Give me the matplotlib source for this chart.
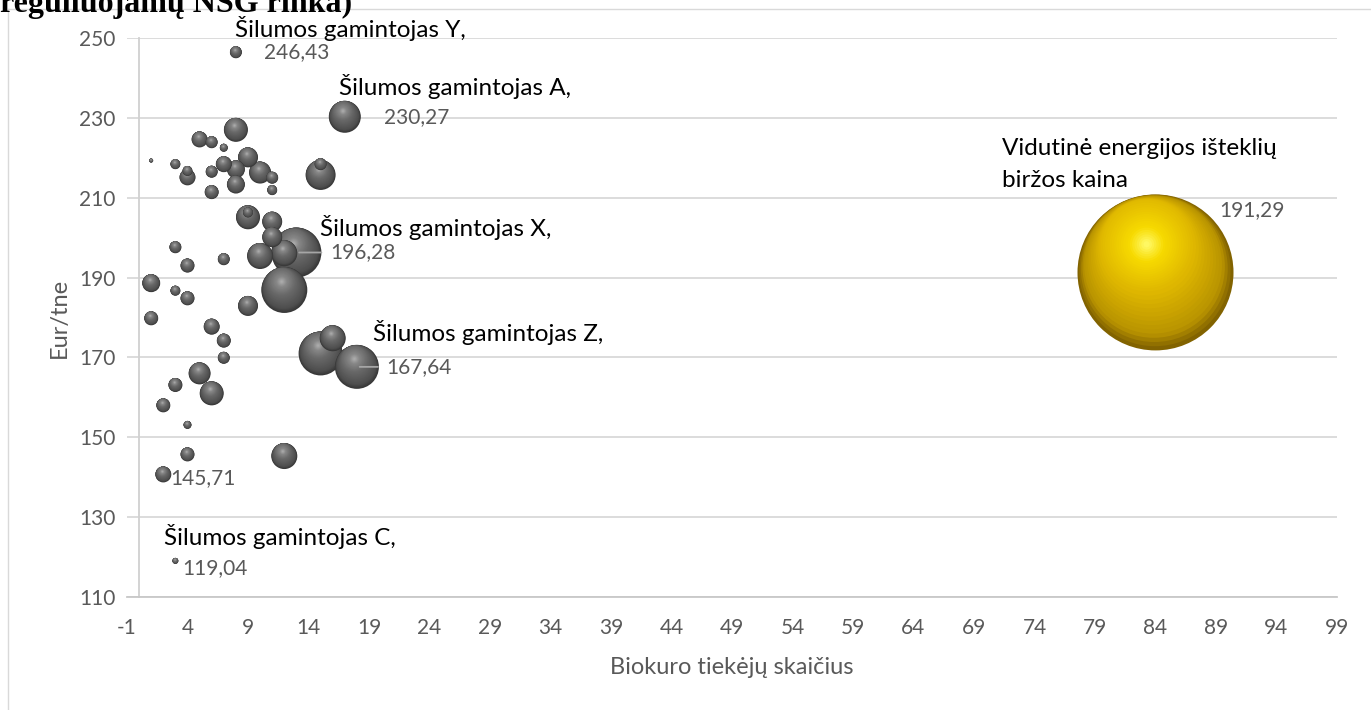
import numpy as np
import matplotlib.pyplot as plt
from matplotlib.colors import LinearSegmentedColormap
from matplotlib.lines import Line2D

plt.rcParams['font.family'] = ['Lato', 'DejaVu Sans']
plt.rcParams['axes.unicode_minus'] = False

# biokuro tiekeju skaicius (x), kaina Eur/tne (y), kiekis (burbulo dydis)
tiekejai = [8, 17, 1, 8, 5, 6, 7, 3, 4, 4, 6, 7, 9, 8, 10, 11, 8, 6, 11, 15,
            15, 9, 9, 11, 11, 13, 12, 10, 7, 3, 4, 1, 3, 4, 12, 9, 1, 6, 7, 7,
            5, 6, 3, 2, 4, 4, 2, 12, 3, 15, 16, 18]
kaina = [246.43, 230.27, 219.3, 227.0, 224.6, 223.9, 222.5, 218.4, 216.7, 215.1,
         216.5, 218.4, 220.1, 217.1, 216.3, 215.0, 213.3, 211.4, 211.9, 215.7,
         218.4, 205.1, 206.3, 204.0, 200.1, 196.28, 196.1, 195.4, 194.6, 197.6,
         193.0, 188.6, 186.7, 184.8, 186.9, 182.9, 179.8, 177.7, 174.2, 169.9,
         166.0, 161.0, 163.1, 158.0, 153.1, 145.71, 140.7, 145.3, 119.04, 171.0,
         174.8, 167.64]
kiekis = [36, 256, 4, 144, 64, 36, 16, 25, 25, 64, 36, 64, 100, 81, 121, 36, 81,
          49, 25, 225, 36, 144, 25, 100, 100, 625, 169, 169, 36, 36, 49, 81, 25,
          49, 529, 100, 49, 64, 49, 36, 121, 144, 49, 49, 16, 49, 64, 169, 9,
          484, 169, 484]

# vidutine birzos kaina
birza_x = 84
birza_y = 191.29
birza_kiekis = 6084

W, H = 1371, 710
fig = plt.figure(figsize=(W / 100, H / 100), dpi=100)
ax = fig.add_axes([127 / W, 1 - 597 / H, 1210 / W, 559 / H])
ax.set_xlim(-1, 99)
ax.set_ylim(110, 250)
ppx = 1210 / 100.0   # pikseliai vienam x vienetui
ppy = 559 / 140.0

pilka = LinearSegmentedColormap.from_list('pilka', [(0, '#383838'), (0.1, '#4e4e4e'), (0.4, '#676767'),
                                                   (0.8, '#888888'), (1, '#ababab')])
geltona = LinearSegmentedColormap.from_list('geltona', [(0, '#826300'), (0.1, '#b89300'), (0.4, '#dfb700'),
                                                       (0.8, '#f7da00'), (1, '#fff862')])


def sfera(x, y, r, cmap, z):
    n = 34
    f = np.linspace(1, 0.04, n)
    d = np.minimum(0.9 * (1 - f), 0.38) * r
    dx = -0.3 * d / ppx
    dy = 0.95 * d / ppy
    s = (2 * r * f * 0.72) ** 2
    c = cmap((1 - f) / 0.96)
    ax.scatter(x + dx, y + dy, s=s, c=c, linewidths=0, zorder=z, clip_on=False)


rmax = 78.0
kmax = max(kiekis + [birza_kiekis])
tvarka = sorted(range(len(kiekis)), key=lambda i: -kiekis[i])
for z, i in enumerate(tvarka):
    r = rmax * np.sqrt(kiekis[i] / kmax)
    sfera(tiekejai[i], kaina[i], r, pilka, 3 + z * 0.01)
sfera(birza_x, birza_y, rmax, geltona, 4)

# asys
ax.set_xticks(np.arange(-1, 100, 5))
ax.set_yticks(np.arange(110, 251, 20))
ax.grid(axis='y', color='#d9d9d9', lw=1.3, zorder=0)
ax.set_axisbelow(True)
for s in ['top', 'right']:
    ax.spines[s].set_visible(False)
ax.spines['bottom'].set_color('#c8c8c8')
ax.spines['bottom'].set_linewidth(1.3)
ax.spines['left'].set_position(('data', 0))
ax.spines['left'].set_color('#d0d0d0')
ax.spines['left'].set_linewidth(1.3)
ax.tick_params(axis='y', length=0, pad=17, labelsize=15, labelcolor='#595959')
ax.tick_params(axis='x', length=0, pad=15, labelsize=15, labelcolor='#595959')
ax.set_xlabel('Biokuro tiekėjų skaičius', fontsize=17, color='#595959', labelpad=14)
ax.text(-0.056, 0.5, 'Eur/tne', transform=ax.transAxes, rotation=90, fontsize=17,
        color='#595959', ha='center', va='center')

# etiketes
vardai = [('Šilumos gamintojas Y,', '246,43', 8, 246.43, (-1, 24), (28, 0)),
          ('Šilumos gamintojas A,', '230,27', 17, 230.27, (-6, 30), (39, 0)),
          ('Šilumos gamintojas X,', '196,28', 13, 196.28, (24, 25), (34, 0)),
          ('Šilumos gamintojas Z,', '167,64', 18, 167.64, (16, 34), (29, 0)),
          ('Šilumos gamintojas C,', '119,04', 3, 119.04, (-11, 24), (7, -7))]
for vardas, reiksme, x, y, o1, o2 in vardai:
    ax.annotate(vardas, (x, y), xytext=o1, textcoords='offset pixels', fontsize=17.5,
                color='black', ha='left', va='center', zorder=20)
    ax.annotate(reiksme, (x, y), xytext=o2, textcoords='offset pixels', fontsize=15,
                color='#595959', ha='left', va='center', zorder=20)

ax.annotate('145,71', (4, 145.71), xytext=(-17, -24), textcoords='offset pixels', fontsize=15,
            color='#595959', ha='left', va='center', zorder=20)

# linijos iki etikeciu
for x, y, ilgis in [(13, 196.28, 25), (18, 167.64, 21)]:
    ax.annotate('', (x, y), xytext=(ilgis, 0), textcoords='offset pixels', zorder=20,
                arrowprops=dict(arrowstyle='-', color='#a6a6a6', lw=1.3, shrinkA=0, shrinkB=2))

ax.annotate('Vidutinė energijos išteklių\nbiržos kaina', (birza_x, birza_y), xytext=(-153, 108),
            textcoords='offset pixels', fontsize=17.5, color='black', ha='left', va='center',
            linespacing=1.6, zorder=20)
ax.annotate('191,29', (birza_x, birza_y), xytext=(64, 62), textcoords='offset pixels',
            fontsize=15, color='#595959', ha='left', va='center', zorder=20)

# nukirptas pavadinimas ir diagramos remelis
fig.text(0, 1 - 12 / H, 'reguliuojamų NSG rinka)', fontfamily=['Liberation Serif', 'DejaVu Serif'],
         fontweight='bold', fontsize=23, va='baseline', ha='left')
fig.add_artist(Line2D([8 / W, 8 / W], [0, 1 - 9 / H], transform=fig.transFigure, color='#d9d9d9', lw=1))
fig.add_artist(Line2D([8 / W, 1], [1 - 9 / H, 1 - 9 / H], transform=fig.transFigure, color='#d9d9d9', lw=1))

fig.savefig('out.png', dpi=100)
